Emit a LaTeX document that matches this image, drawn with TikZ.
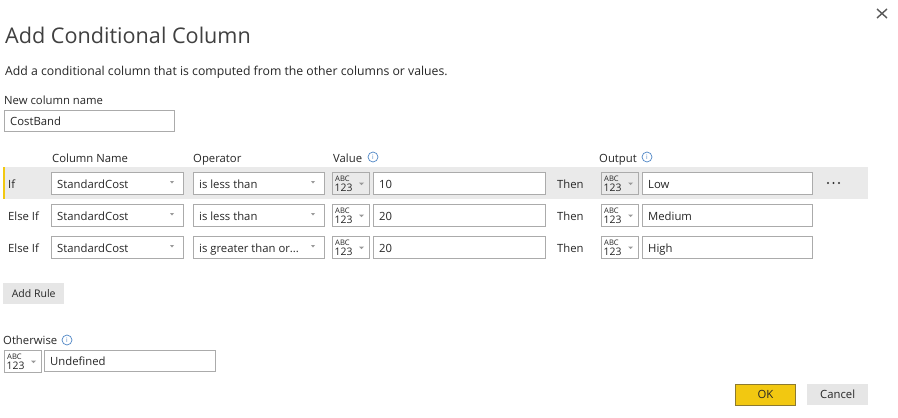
\documentclass[tikz,border=0pt]{standalone}
\usepackage{fontspec}
\setmainfont{Open Sans}
\definecolor{txt}{HTML}{262626}
\definecolor{titlec}{HTML}{404040}
\definecolor{bord}{HTML}{ABABAB}
\definecolor{hl}{HTML}{EAEAEA}
\definecolor{yel}{HTML}{F2C811}
\definecolor{okbord}{HTML}{8C7A30}
\definecolor{btn}{HTML}{E6E6E6}
\definecolor{iconc}{HTML}{4F86C6}
\definecolor{arr}{HTML}{9A9A9A}
\newcommand\fsz{\fontsize{11.3}{13}\selectfont}
\tikzset{
  field/.style={draw=bord, fill=white, line width=0.9pt, rectangle, inner sep=0pt},
  lbl/.style={anchor=base west, inner sep=0pt, text=txt, font=\fsz},
  infoicon/.style={circle, draw=iconc, line width=0.7pt, minimum size=10pt, inner sep=0pt, text=iconc, font=\fontsize{6.5}{7}\selectfont},
  button/.style={fill=btn, rectangle, inner sep=0pt, anchor=north west, minimum height=21pt, text=txt, font=\fsz}
}
% name, x1, y1, x2, y2, text
\newcommand\uifield[6]{%
  \node[field, anchor=north west, minimum width=#4-#2, minimum height=#5-#3] (#1) at (#2,#3) {};
  \node[lbl] (#1-t) at (#2+6,#5-6) {#6};
}
% name, x1, y1, x2, y2, text  (with dropdown arrow)
\newcommand\uidrop[6]{%
  \uifield{#1}{#2}{#3}{#4}{#5}{#6}
  \fill[arr] (#4-13,#3+9) -- (#4-9,#3+9) -- (#4-11,#3+11.5) -- cycle;
}
% name, x, y top, fill
\newcommand\abcbox[4]{%
  \node[field, fill=#4, anchor=north west, minimum width=37, minimum height=22] (#1) at (#2,#3) {};
  \node[anchor=base west, inner sep=0pt, text=txt, font=\fontsize{7.6}{7}\selectfont] (#1-a) at (#2+3,#3+9.5) {ABC};
  \node[anchor=base west, inner sep=0pt, text=txt, font=\fontsize{10.4}{10}\selectfont] (#1-n) at (#2+2.5,#3+19) {123};
  \fill[arr] (#2+27,#3+10.5) -- (#2+32,#3+10.5) -- (#2+29.5,#3+13) -- cycle;
}
\begin{document}
\begin{tikzpicture}[x=1pt,y=-1pt]
\useasboundingbox (0,0) rectangle (898,418);
\fill[white] (0,0) rectangle (898,418);

% close cross
\draw[line width=1.4pt, color=black!65] (877,9) -- (887,18) (887,9) -- (877,18);

% title texts
\node[anchor=base west, inner sep=0pt, text=titlec, font=\fontsize{21.6}{24}\selectfont] (title) at (5,43) {Add Conditional Column};
\node[lbl, font=\fontsize{12.25}{14}\selectfont] (sub) at (5,75) {Add a conditional column that is computed from the other columns or values.};
\node[lbl] (ncn) at (4,104) {New column name};
\uifield{costband}{4}{110}{174}{131}{CostBand}

% headers
\node[lbl] (hcol) at (52,162) {Column Name};
\node[lbl] (hop) at (193,162) {Operator};
\node[lbl] (hval) at (333,162) {Value};
\node[infoicon] (ival) at (373,157) {i};
\node[lbl] (hout) at (599,162) {Output};
\node[infoicon] (iout) at (647,157) {i};

% highlight of first rule
\fill[hl] (3,167) rectangle (868,199);
\fill[yel] (3,167) rectangle (5,199);

% row 1
\node[lbl] (l1) at (8,188) {If};
\uidrop{c1}{51}{172}{183}{194}{StandardCost}
\uidrop{o1}{193}{172}{324}{194}{is less than}
\abcbox{a1}{332}{172}{hl}
\uifield{v1}{373}{172}{545}{194}{10}
\node[lbl] (t1) at (557,188) {Then};
\abcbox{b1}{601}{172}{hl}
\uifield{r1}{642}{172}{812}{194}{Low}
\fill[black!80] (828,183) circle (1.2pt) (833.5,183) circle (1.2pt) (839,183) circle (1.2pt);

% row 2
\node[lbl] (l2) at (8,220) {Else If};
\uidrop{c2}{51}{204}{183}{226}{StandardCost}
\uidrop{o2}{193}{204}{324}{226}{is less than}
\abcbox{a2}{332}{204}{white}
\uifield{v2}{373}{204}{545}{226}{20}
\node[lbl] (t2) at (557,220) {Then};
\abcbox{b2}{601}{204}{white}
\uifield{r2}{642}{204}{812}{226}{Medium}

% row 3
\node[lbl] (l3) at (8,252) {Else If};
\uidrop{c3}{51}{236}{183}{258}{StandardCost}
\uidrop{o3}{193}{236}{324}{258}{is greater than or...}
\abcbox{a3}{332}{236}{white}
\uifield{v3}{373}{236}{545}{258}{20}
\node[lbl] (t3) at (557,252) {Then};
\abcbox{b3}{601}{236}{white}
\uifield{r3}{642}{236}{812}{258}{High}

% add rule
\node[button, minimum width=61, font=\fontsize{10.5}{12}\selectfont] (addrule) at (3,283) {Add Rule};

% otherwise
\node[lbl] (oth) at (3,344) {Otherwise};
\node[infoicon] (ioth) at (67,340) {i};
\abcbox{a4}{4}{350}{white}
\uifield{und}{44}{350}{215}{371}{Undefined}

% buttons
\node[button, fill=yel, draw=okbord, line width=0.9pt, minimum width=60] (ok) at (735,384) {OK};
\node[button, minimum width=61] (cancel) at (807,384) {Cancel};
\end{tikzpicture}
\end{document}
